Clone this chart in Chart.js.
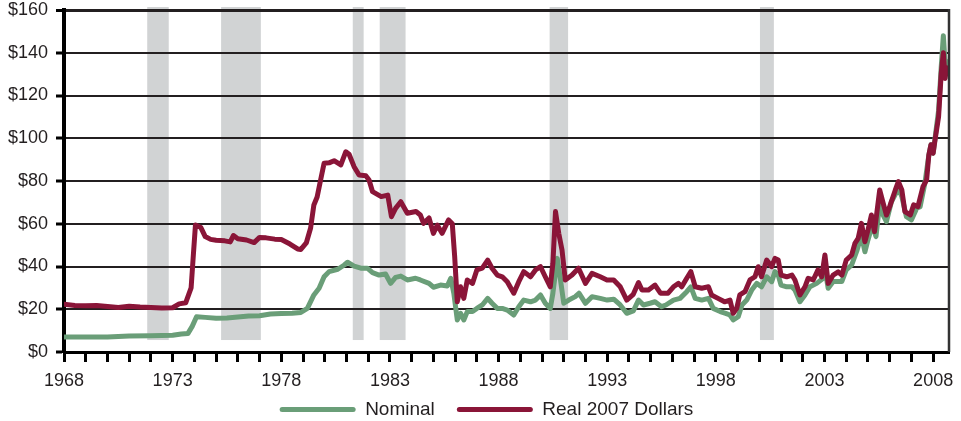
<!DOCTYPE html>
<html>
<head>
<meta charset="utf-8">
<script src="https://cdn.jsdelivr.net/npm/chart.js@4"></script>
<style>
  html, body { margin: 0; padding: 0; background: #fff; }
  #wrap { width: 961px; height: 421px; }
</style>
</head>
<body>
<div id="wrap"><canvas id="myChart"></canvas></div>
<script>
// Oil price, monthly readings (decimal years)
const nomYears = [1968.0, 1969.0, 1970.0, 1970.5, 1971.0, 1972.0, 1973.0, 1973.4, 1973.7, 1973.9, 1974.1, 1974.5, 1975.0, 1975.5, 1976.0, 1976.5, 1977.0, 1977.5, 1978.0, 1978.5, 1978.9,
  1979.2, 1979.5, 1979.74, 1979.97, 1980.2, 1980.6, 1980.9, 1981.05, 1981.35, 1981.66, 1981.96, 1982.2, 1982.5, 1982.8, 1983.03, 1983.26, 1983.5, 1983.8, 1984.18, 1984.4, 1984.8,
  1985.0, 1985.33, 1985.64, 1985.8, 1985.94, 1986.1, 1986.25, 1986.4, 1986.56, 1986.8, 1987.0, 1987.25, 1987.5, 1987.7, 1987.94, 1988.17, 1988.4, 1988.7, 1988.93,
  1989.16, 1989.47, 1989.7, 1989.93, 1990.15, 1990.38, 1990.5, 1990.7, 1990.85, 1991.0, 1991.23, 1991.53, 1991.7, 1992.0, 1992.3, 1992.68, 1993.0, 1993.3, 1993.6, 1993.9,
  1994.2, 1994.44, 1994.67, 1994.97, 1995.2, 1995.5, 1995.7, 1996.05, 1996.35, 1996.66, 1996.85, 1997.05, 1997.35, 1997.66, 1997.88, 1998.2, 1998.45, 1998.65, 1998.8, 1999.03,
  1999.2, 1999.42, 1999.65, 1999.88, 2000.1, 2000.34, 2000.57, 2000.72, 2000.87, 2001.0, 2001.26, 2001.5, 2001.64, 2001.87, 2002.1, 2002.33, 2002.64, 2002.94, 2003.02,
  2003.17, 2003.4, 2003.8, 2004.0, 2004.25, 2004.5, 2004.7, 2004.86, 2005.0, 2005.2, 2005.37, 2005.54, 2005.7, 2005.85, 2006.08, 2006.4, 2006.56, 2006.77, 2007.0,
  2007.24, 2007.4, 2007.62, 2007.8, 2007.9, 2008.0, 2008.1, 2008.25, 2008.37, 2008.47, 2008.55, 2008.62, 2008.68];
const nomValues = [7.0, 7.0, 7.0, 7.3, 7.5, 7.6, 7.8, 8.4, 8.6, 12, 16.5, 16.2, 15.8, 15.9, 16.4, 16.8, 17.0, 17.8, 18.0, 18.1, 18.5,
  20.4, 26.7, 29.8, 35.2, 37.6, 38.7, 40.7, 42.0, 40.2, 39.2, 39.2, 37.1, 36, 36.5, 32.1, 34.9, 35.5, 33.7, 34.5, 33.7, 32.1,
  30.3, 31.3, 30.9, 34.5, 27.5, 15, 18.1, 15, 18.9, 18.9, 20.4, 22, 25.1, 22.8, 20.4, 20.4, 19.6, 17.3, 21.2,
  24.3, 23.5, 24.3, 26.7, 22.8, 20.4, 27.5, 43.8, 33.7, 22.8, 24.3, 25.9, 27.5, 22.8, 25.9, 25.1, 24.3, 24.7, 22, 18.1,
  19.2, 24.3, 22, 22.8, 23.5, 21.2, 22, 24.3, 25.1, 28.2, 30.5, 25.1, 24.3, 25.1, 20.4, 18.9, 18.1, 17.3, 15, 16.5,
  22, 24.3, 29, 32.1, 30.5, 35.2, 32.9, 37.6, 36, 31.3, 30.5, 30.5, 29, 23.5, 26.7, 30.5, 32.1, 34.5, 39,
  29.8, 33, 33, 38.4, 40.7, 47.7, 54.7, 46.9, 52.4, 59.4, 54, 69.6, 64, 61, 70.3, 76.6, 72.7, 63.3, 61.8,
  67.2, 68, 78.9, 92, 97, 93, 101, 113, 133, 148, 135, 136, 133];

const realYears = [1968.0, 1968.5, 1969.0, 1969.5, 1970.0, 1970.5, 1971.0, 1971.5, 1972.0, 1972.5, 1973.0, 1973.3, 1973.6, 1973.85, 1973.95, 1974.05, 1974.3, 1974.5, 1974.75,
  1975.0, 1975.4, 1975.65, 1975.8, 1976.0, 1976.4, 1976.75, 1977.0, 1977.3, 1977.7, 1978.0, 1978.4, 1978.75, 1978.9, 1979.15, 1979.35, 1979.5, 1979.65, 1979.8, 1979.97,
  1980.2, 1980.43, 1980.74, 1980.97, 1981.12, 1981.35, 1981.58, 1981.89, 1982.04, 1982.2, 1982.6, 1982.9, 1983.07, 1983.26, 1983.5, 1983.8, 1984.2, 1984.4, 1984.55, 1984.8,
  1985.0, 1985.18, 1985.4, 1985.7, 1985.87, 1985.98, 1986.1, 1986.25, 1986.4, 1986.56, 1986.8, 1987.0, 1987.25, 1987.5, 1987.7, 1987.94, 1988.17, 1988.4, 1988.7, 1988.93,
  1989.16, 1989.47, 1989.7, 1989.93, 1990.15, 1990.38, 1990.5, 1990.62, 1990.77, 1990.92, 1991.07, 1991.38, 1991.68, 1992.0, 1992.3, 1992.68, 1992.99, 1993.3, 1993.6, 1993.9,
  1994.2, 1994.44, 1994.6, 1994.9, 1995.2, 1995.45, 1995.8, 1996.05, 1996.28, 1996.43, 1996.66, 1996.85, 1997.05, 1997.35, 1997.66, 1997.8, 1998.1, 1998.4, 1998.65, 1998.8, 1998.96,
  1999.1, 1999.34, 1999.57, 1999.8, 1999.95, 2000.1, 2000.34, 2000.57, 2000.72, 2000.87, 2001.0, 2001.26, 2001.5, 2001.64, 2001.87, 2002.1, 2002.25, 2002.48, 2002.7, 2002.87, 2003.02,
  2003.17, 2003.4, 2003.63, 2003.8, 2004.0, 2004.25, 2004.4, 2004.55, 2004.7, 2004.86, 2005.0, 2005.16, 2005.3, 2005.54, 2005.7, 2005.85, 2006.0, 2006.26, 2006.4, 2006.56, 2006.7, 2006.95,
  2007.1, 2007.3, 2007.53, 2007.7, 2007.8, 2007.9, 2008.0, 2008.1, 2008.25, 2008.37, 2008.47, 2008.55, 2008.62, 2008.68];
const realValues = [22.3, 21.8, 21.6, 21.8, 21.3, 20.8, 21.4, 21.0, 20.8, 20.6, 20.7, 22.5, 23.0, 30, 45, 59.4, 58.2, 54.0, 52.7,
  52.3, 52.0, 51.5, 54.5, 53.0, 52.4, 51.2, 53.6, 53.4, 52.8, 52.6, 50.5, 48.2, 48.0, 51.0, 58, 68.8, 72.5, 80, 88.3,
  88.5, 89.5, 87.5, 93.7, 92.5, 86.7, 82.8, 82.5, 80.5, 75, 72.7, 73.4, 63.3, 67.2, 70.3, 64.9, 65.7, 64.1, 60.2, 62.7,
  55.5, 59.4, 55.5, 61.8, 60, 44.6, 23.5, 30.5, 25.1, 33.7, 32.1, 38.4, 39.2, 43, 39.2, 36, 35.2, 32.9, 27.5, 32.9,
  37.6, 35.2, 38.4, 39.9, 35.2, 30.5, 41.5, 65.7, 55.5, 47.7, 33.7, 36, 39.2, 32.1, 36.8, 35.2, 33.7, 33.7, 30.5, 24.3,
  27, 32.5, 29, 29, 31.3, 27.5, 27.5, 30.5, 32.1, 30.5, 34.5, 37.6, 30.5, 29.8, 30.5, 26.7, 25.1, 23.5, 24.3, 18.1, 20.4,
  26.7, 28.2, 33.7, 35.2, 39.9, 35.2, 43, 39.9, 43.8, 43, 36, 35.2, 36, 33.7, 26.7, 30.5, 34.5, 33.7, 38.4, 35.2, 45.4,
  32.1, 36, 37.5, 36, 43, 45.4, 50.8, 53.2, 60.2, 51.6, 57, 64.1, 56.3, 75.8, 69.6, 64.1, 68, 75.8, 79.7, 75.8, 65.7, 64.1,
  68.8, 68, 77.3, 80.5, 92, 97, 93, 100, 110, 130, 140, 128, 133, 131];

// Shaded periods
const bandStart = [1971.83, 1975.23, 1981.29, 1982.53, 1990.35, 2000.03];
const bandEnd = [1972.82, 1977.06, 1981.79, 1983.72, 1991.2, 2000.67];

const GREEN = '#6a9e78';
const MAROON = '#8a1538';
const INK = '#231f20';

const toPoints = (xs, ys) => xs.map((x, i) => ({ x: x, y: ys[i] }));

// grey bars behind everything, frame line and legend nudge
const bandPlugin = {
    id: 'bands',
    afterLayout(chart) {
        // pull the legend up under the year labels
        const lg = chart.legend;
        lg.top -= 18; lg.bottom -= 18;
        lg.left += 12; lg.right += 12;
    },
    beforeDraw(chart) {
        const { ctx, chartArea, scales } = chart;
        const yBottom = scales.y.getPixelForValue(5.6);
        ctx.save();
        ctx.fillStyle = '#d1d3d4';
        for (let i = 0; i < bandStart.length; i++) {
            const x1 = scales.x.getPixelForValue(bandStart[i]);
            const x2 = scales.x.getPixelForValue(bandEnd[i]);
            ctx.fillRect(x1, chartArea.top - 3, x2 - x1, yBottom - chartArea.top + 3);
        }
        ctx.restore();
    },
    afterDraw(chart) {
        // thin right frame line
        const { ctx, chartArea } = chart;
        ctx.save();
        ctx.strokeStyle = '#333';
        ctx.lineWidth = 2.5;
        ctx.beginPath();
        ctx.moveTo(chartArea.right, chartArea.top - 1);
        ctx.lineTo(chartArea.right, chartArea.bottom);
        ctx.stroke();
        ctx.restore();
    }
};

const family = "'Liberation Sans', Arial, sans-serif";
const tickFont = { family: family, size: 18 };

const chart = new Chart('myChart', {
    type: 'line',
    data: {
        datasets: [{
            label: 'Nominal',
            data: toPoints(nomYears, nomValues),
            borderColor: GREEN,
            backgroundColor: GREEN,
            order: 1
        }, {
            label: 'Real 2007 Dollars',
            data: toPoints(realYears, realValues),
            borderColor: MAROON,
            backgroundColor: MAROON,
            order: 0
        }]
    },
    options: {
        responsive: true,
        maintainAspectRatio: false,
        animation: false,
        events: [],
        layout: { padding: { left: 0, right: 12, top: 10, bottom: -26 } },
        elements: {
            point: { radius: 0 },
            line: { borderWidth: 5, tension: 0, borderJoinStyle: 'round', borderCapStyle: 'round' }
        },
        scales: {
            x: {
                type: 'linear',
                min: 1968,
                max: 2008.73,
                afterFit: (scale) => {
                    scale.height = 44;
                    scale.paddingLeft = 0;
                    scale.paddingRight = 0;
                },
                border: { display: true, color: '#000', width: 3 },
                grid: { drawOnChartArea: false, drawTicks: true, tickLength: 10, tickWidth: 3, tickColor: '#000' },
                ticks: {
                    stepSize: 1,
                    autoSkip: false,
                    includeBounds: false,
                    maxRotation: 0,
                    padding: 8,
                    color: INK,
                    font: tickFont,
                    callback: (v) => (Math.round(v) - 1968) % 5 === 0 ? String(Math.round(v)) : ''
                }
            },
            y: {
                min: 0,
                max: 160,
                afterFit: (scale) => {
                    scale.width = 64;
                    scale.paddingTop = 0;
                    scale.paddingBottom = 0;
                },
                border: { display: true, color: '#000', width: 4 },
                grid: {
                    color: INK,
                    lineWidth: (c) => c.tick && c.tick.value === 160 ? 3 : 2,
                    tickLength: 8,
                    tickWidth: 3,
                    tickColor: '#000'
                },
                ticks: {
                    stepSize: 20,
                    padding: 8,
                    color: INK,
                    font: tickFont,
                    callback: (v) => '$' + v
                }
            }
        },
        plugins: {
            tooltip: { enabled: false },
            legend: {
                position: 'bottom',
                labels: {
                    boxWidth: 76,
                    boxHeight: 5,
                    padding: 22,
                    color: INK,
                    font: { family: family, size: 19 },
                    useBorderRadius: true,
                    borderRadius: 2.5,
                    generateLabels: (c) => c.data.datasets.map((ds, i) => ({
                        text: ds.label,
                        fillStyle: ds.borderColor,
                        strokeStyle: ds.borderColor,
                        lineWidth: 0,
                        hidden: false,
                        datasetIndex: i,
                        borderRadius: 2.5,
                        fontColor: INK
                    }))
                }
            }
        }
    },
    plugins: [bandPlugin]
});
</script>
</body>
</html>
